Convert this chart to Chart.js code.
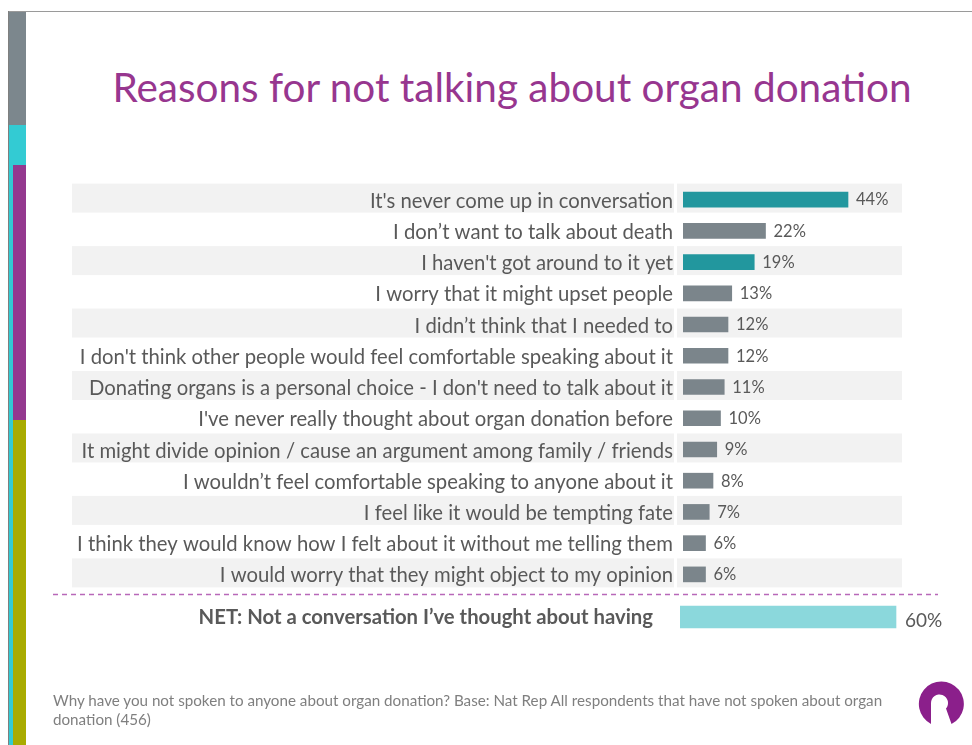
<!DOCTYPE html>
<html>
<head>
<meta charset="utf-8">
<script src="https://cdn.jsdelivr.net/npm/chart.js@4.4.1/dist/chart.umd.min.js"></script>
<style>
  html, body { margin: 0; padding: 0; background: #fff; }
  body { width: 972px; height: 745px; position: relative; overflow: hidden; font-family: Lato, "Open Sans", sans-serif; }
  .abs { position: absolute; }
  #topline { left: 8px; top: 11px; width: 964px; height: 1px; background: #9a9a9a; }
  #edge { left: 8px; top: 11px; width: 1px; height: 734px; background: #7f7f7f; }
  #s-grey { left: 9px; top: 12px; width: 17px; height: 113px; background: #7c878d; }
  #s-cyan { left: 9px; top: 125px; width: 17px; height: 620px; background: #33cbd3; }
  #s-purple { left: 13px; top: 165px; width: 13px; height: 255px; background: #94398f; }
  #s-olive { left: 13px; top: 420px; width: 13px; height: 325px; background: #a9ab00; }
  #title { left: 12px; width: 1000px; top: 62px; text-align: center; color: #97368f; font-size: 40.5px; white-space: nowrap; }
  #foot { left: 53px; top: 691px; color: #7f7f7f; font-size: 15.2px; line-height: 19px; white-space: nowrap; }
  #logo { left: 910px; top: 676px; }
  canvas { position: absolute; left: 0; }
</style>
</head>
<body>
<div id="topline" class="abs"></div>
<div id="edge" class="abs"></div>
<div id="s-grey" class="abs"></div>
<div id="s-cyan" class="abs"></div>
<div id="s-purple" class="abs"></div>
<div id="s-olive" class="abs"></div>
<div id="title" class="abs">Reasons for not talking about organ donation</div>
<canvas id="main" width="972" height="745" style="top:0"></canvas>
<canvas id="net" width="972" height="130" style="top:552px"></canvas>
<div id="foot" class="abs">Why have you not spoken to anyone about organ donation? Base: Nat Rep All respondents that have not spoken about organ<br>donation (456)</div>
<svg id="logo" class="abs" width="60" height="60" viewBox="910 676 60 60">
  <path fill="#8b1f8b" d="M 931 723.9 A 22.5 22.5 0 1 1 951.5 724 L 946 708.5 A 8.5 8.5 0 1 0 931 703 Z"/>
</svg>
<script>
// Survey answers (percent of respondents)
const reasons = [
  "It's never come up in conversation",
  "I don\u2019t want to talk about death",
  "I haven't got around to it yet",
  "I worry that it might upset people",
  "I didn\u2019t think that I needed to",
  "I don't think other people would feel comfortable speaking about it",
  "Donating organs is a personal choice - I don't need to talk about it",
  "I've never really thought about organ donation before",
  "It might divide opinion / cause an argument among family / friends",
  "I wouldn\u2019t feel comfortable speaking to anyone about it",
  "I feel like it would be tempting fate",
  "I think they would know how I felt about it without me telling them",
  "I would worry that they might object to my opinion"
];
const percents = [44, 22, 19, 13, 12, 12, 11, 10, 9, 8, 7, 6, 6];
// answers that make up the NET group are highlighted
const highlighted = [true, false, true, false, false, false, false, false, false, false, false, false, false];

const netLabel = ["NET: Not a conversation I\u2019ve thought about having"];
const netPercent = [60];

const TEAL = '#22979e', GREY = '#7b858b', NET_CYAN = '#8bd8dc', TEXT = '#595959';
const FONT = 'Lato, "Open Sans", sans-serif';

// alternating light row bands behind the reasons, and the dashed separator
const rowBands = {
  id: 'rowBands',
  beforeDraw(chart) {
    const { ctx, scales: { y } } = chart;
    ctx.save();
    ctx.fillStyle = '#f2f2f2';
    for (let i = 0; i < reasons.length; i += 2) {
      const cy = y.getPixelForValue(i);
      ctx.fillRect(72, cy - 16, 602, 29);
      ctx.fillRect(677, cy - 16, 225, 29);
    }
    ctx.restore();
  },
  afterDraw(chart) {
    const { ctx } = chart;
    ctx.save();
    ctx.strokeStyle = '#b868b9';
    ctx.lineWidth = 1.5;
    ctx.setLineDash([5, 4]);
    ctx.beginPath();
    ctx.moveTo(53, 594.5);
    ctx.lineTo(938, 594.5);
    ctx.stroke();
    ctx.restore();
  }
};

// percentage printed just past the end of each bar
function valueLabels(size, gap, dy) {
  return {
    id: 'valueLabels',
    afterDatasetsDraw(chart) {
      const { ctx } = chart;
      const ds = chart.data.datasets[0];
      const meta = chart.getDatasetMeta(0);
      ctx.save();
      ctx.fillStyle = TEXT;
      ctx.font = size + 'px ' + FONT;
      ctx.textBaseline = 'middle';
      ctx.textAlign = 'left';
      meta.data.forEach((bar, i) => {
        ctx.fillText(ds.data[i] + '%', bar.x + gap, bar.y + dy);
      });
      ctx.restore();
    }
  };
}

new Chart(document.getElementById('main'), {
  type: 'bar',
  data: {
    labels: reasons,
    datasets: [{
      data: percents,
      backgroundColor: highlighted.map(h => h ? TEAL : GREY),
      barThickness: 15
    }]
  },
  options: {
    indexAxis: 'y',
    responsive: false,
    animation: false,
    layout: { padding: { top: 184, bottom: 155, left: 0, right: 64 } },
    plugins: { legend: { display: false }, tooltip: { enabled: false } },
    scales: {
      x: { min: 0, max: 60, display: false },
      y: {
        offset: true,
        grid: { display: false, drawTicks: false },
        border: { display: false },
        ticks: { color: TEXT, font: { family: FONT, size: 20.3 }, padding: 10, labelOffset: 1.5, crossAlign: 'near', autoSkip: false },
        afterFit(scale) { scale.width = 683; }
      }
    }
  },
  plugins: [rowBands, valueLabels(16.5, 8, 0.5)]
});

new Chart(document.getElementById('net'), {
  type: 'bar',
  data: {
    labels: netLabel,
    datasets: [{ data: netPercent, backgroundColor: NET_CYAN, barThickness: 22 }]
  },
  options: {
    indexAxis: 'y',
    responsive: false,
    animation: false,
    layout: { padding: { top: 44, bottom: 44, left: 0, right: 58 } },
    plugins: { legend: { display: false }, tooltip: { enabled: false } },
    scales: {
      x: { min: 0, max: 65, display: false },
      y: {
        offset: true,
        grid: { display: false, drawTicks: false },
        border: { display: false },
        ticks: { color: TEXT, font: { family: FONT, size: 20.3, weight: 'bold' }, padding: 27, crossAlign: 'near' },
        afterFit(scale) { scale.width = 680; }
      }
    }
  },
  plugins: [valueLabels(19, 9, 4)]
});
</script>
</body>
</html>
